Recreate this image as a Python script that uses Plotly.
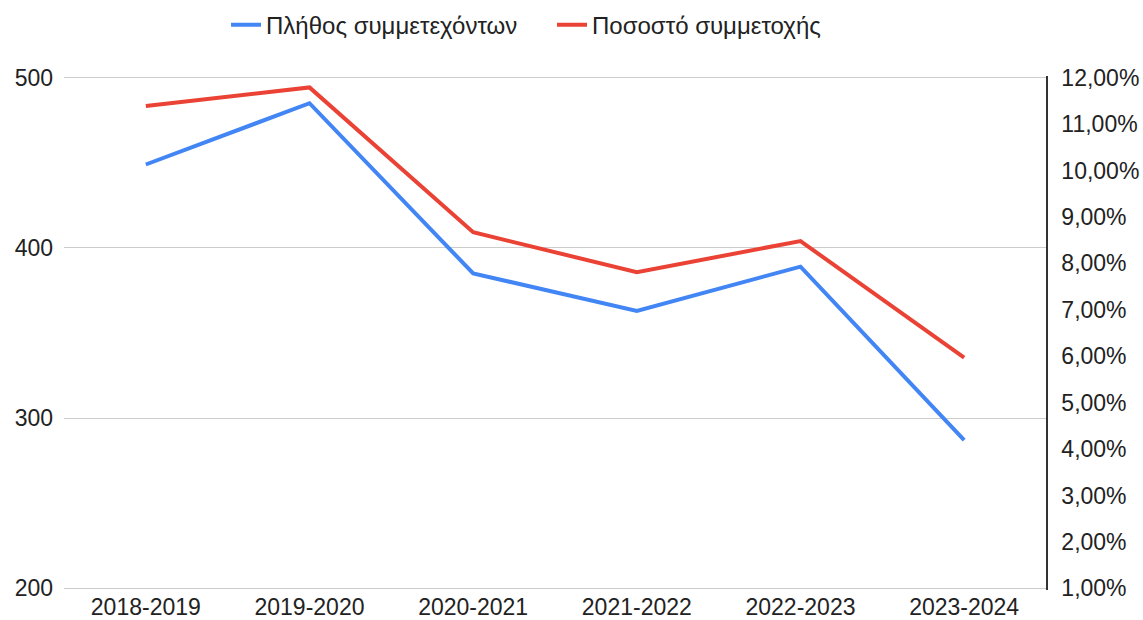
import plotly.graph_objects as go

# Academic years on the x axis
years = ["2018-2019", "2019-2020", "2020-2021", "2021-2022", "2022-2023", "2023-2024"]

# Number of participants (left axis)
participants = [449, 485, 385, 363, 389, 287]

# Participation rate (right axis, as fraction)
participation_rate = [0.1139, 0.1179, 0.0867, 0.0781, 0.0848, 0.0597]

left_ticks = [200, 300, 400, 500]
right_ticks = [0.01, 0.02, 0.03, 0.04, 0.05, 0.06, 0.07, 0.08, 0.09, 0.10, 0.11, 0.12]

BLUE = "#4285F4"
RED = "#EA4335"
TEXT = "#222222"
FONT = "Liberation Sans, Arial, sans-serif"

# Both value axes share one scale: 300 participants <-> 11 percentage points.
# A one-unit pad keeps the outer gridlines (200 and 500) inside the plot area.
left_lo, left_hi, pad = 200, 500, 1.0
rate_per_unit = (0.12 - 0.01) / (left_hi - left_lo)
left_range = [left_lo - pad, left_hi + pad]
right_range = [0.01 - pad * rate_per_unit, 0.12 + pad * rate_per_unit]

fig = go.Figure()
fig.add_trace(go.Scatter(
    x=years, y=participants, mode="lines", name="Πλήθος συμμετεχόντων",
    line=dict(color=BLUE, width=4), yaxis="y",
))
fig.add_trace(go.Scatter(
    x=years, y=participation_rate, mode="lines", name="Ποσοστό συμμετοχής",
    line=dict(color=RED, width=4), yaxis="y2",
))

fig.update_layout(
    width=1143, height=620,
    margin=dict(l=64, r=97, t=76, b=30, autoexpand=False),
    paper_bgcolor="white", plot_bgcolor="white",
    separators=",.",
    font=dict(family=FONT, size=23, color=TEXT),
    showlegend=True,
    legend=dict(
        orientation="h", x=0.165, xanchor="left", y=1.099, yanchor="middle",
        font=dict(family=FONT, size=24, color=TEXT), entrywidth=281,
        bgcolor="rgba(0,0,0,0)",
    ),
    xaxis=dict(
        type="category", range=[-0.5, 5.5], showgrid=False, zeroline=False,
        showline=False, ticks="", tickfont=dict(size=23, color=TEXT),
        ticklabelstandoff=1, automargin=False,
    ),
    yaxis=dict(
        range=left_range, tickvals=left_ticks, showgrid=True, gridcolor="#cccccc",
        gridwidth=1, zeroline=False, showline=False, ticks="",
        tickfont=dict(size=23, color=TEXT), ticklabelstandoff=10, automargin=False,
    ),
    yaxis2=dict(
        overlaying="y", side="right", range=right_range, tickvals=right_ticks,
        tickformat=".2%", showgrid=False, zeroline=False, showline=True,
        linecolor="#333333", linewidth=1.5, ticks="",
        tickfont=dict(size=23, color=TEXT), ticklabelstandoff=9, automargin=False,
    ),
)

fig.write_html("out.html")
